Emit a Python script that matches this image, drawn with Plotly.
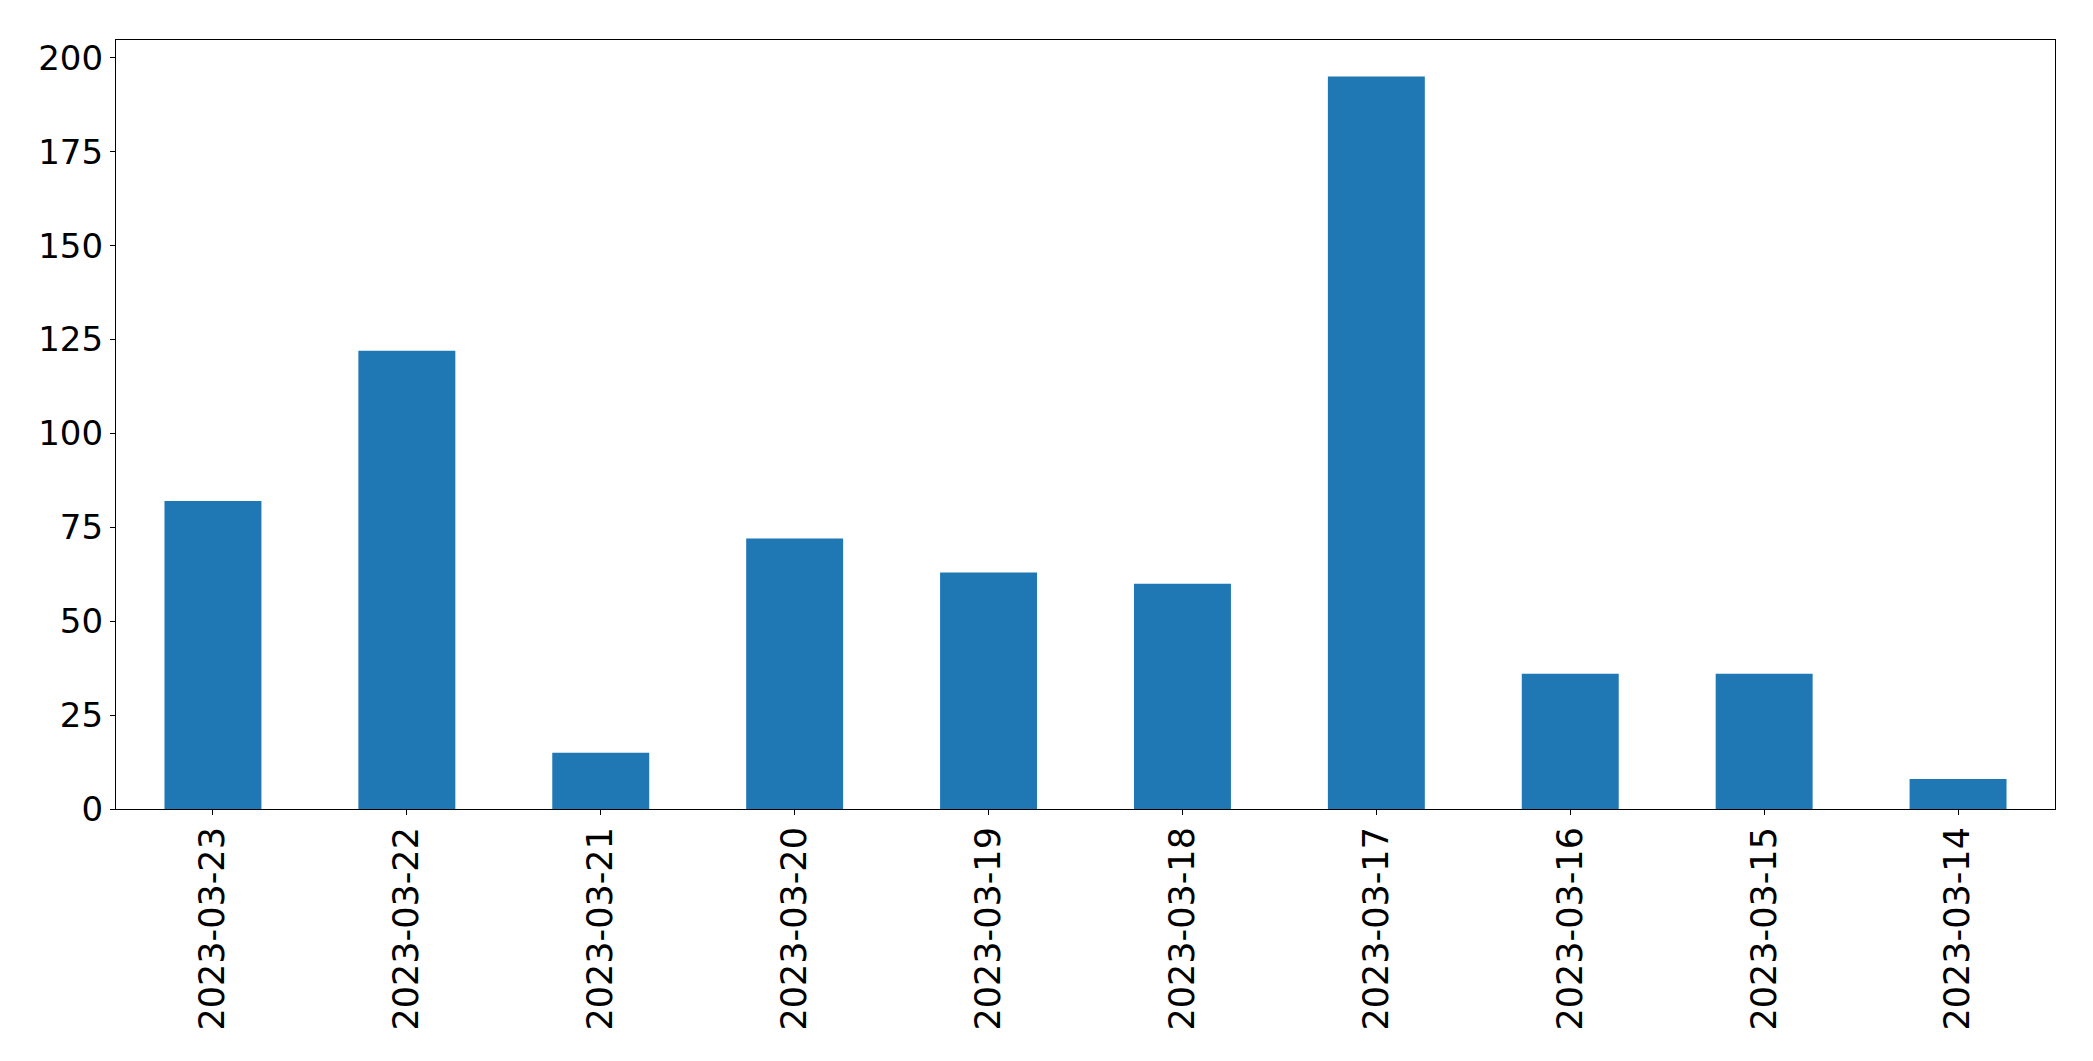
import plotly.graph_objects as go

dates = ["2023-03-23", "2023-03-22", "2023-03-21", "2023-03-20", "2023-03-19",
         "2023-03-18", "2023-03-17", "2023-03-16", "2023-03-15", "2023-03-14"]
counts = [82, 122, 15, 72, 63, 60, 195, 36, 36, 8]
y_ticks = [0, 25, 50, 75, 100, 125, 150, 175, 200]

fig = go.Figure(go.Bar(x=dates, y=counts, width=0.5, marker=dict(color="#1f77b4", line=dict(width=0))))

axis_common = dict(
    showline=True, linecolor="black", linewidth=1.2, mirror=True,
    ticks="outside", ticklen=5, tickwidth=1.2, tickcolor="black",
    showgrid=False, zeroline=False, automargin=False,
)

fig.update_layout(
    template="none",
    width=2077, height=1045,
    margin=dict(l=108, r=30, t=32, b=244, pad=0),
    paper_bgcolor="white", plot_bgcolor="white",
    showlegend=False,
    xaxis=dict(type="category", range=[-0.5, 9.5], tickangle=-90, ticklabelstandoff=-2,
               tickfont=dict(family="DejaVu Sans", size=35, color="black"), **axis_common),
    yaxis=dict(range=[0, 204.75], tickvals=y_ticks, ticktext=[str(v) for v in y_ticks], ticklabelstandoff=0,
               tickfont=dict(family="DejaVu Sans", size=34, color="black"), **axis_common),
)

fig.write_html("out.html")
